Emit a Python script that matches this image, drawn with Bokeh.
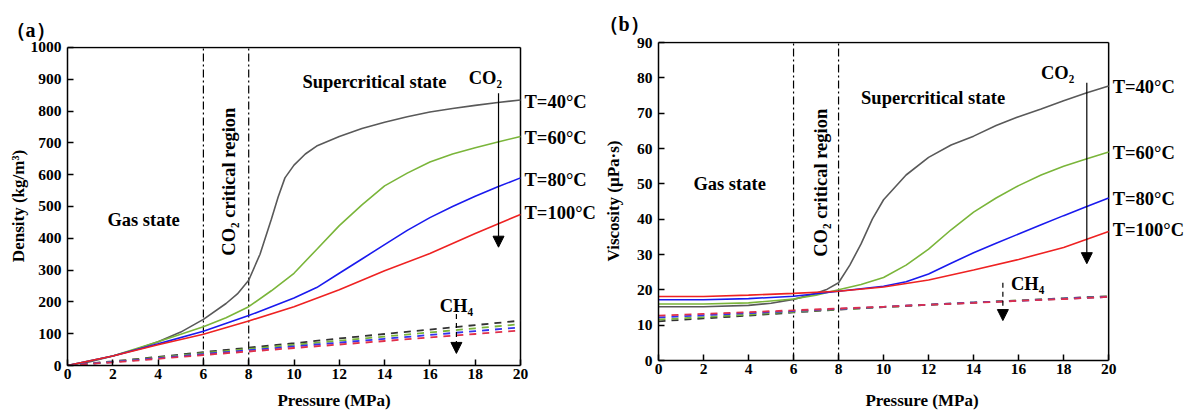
from bokeh.plotting import figure
from bokeh.models import Label, Arrow, NormalHead, Range1d, FixedTicker, Title
from bokeh.layouts import row
from bokeh.embed import file_html
from bokeh.resources import INLINE

# ---------------- data: (a) density ----------------
temps = ["T=40°C", "T=60°C", "T=80°C", "T=100°C"]
colors_co2 = ["#595959", "#7ab53a", "#1a1aee", "#ee2222"]
colors_ch4 = ["#333333", "#7ab53a", "#3333ee", "#e0304a"]

dens40_x = [0, 1, 2, 3, 4, 5, 6, 7, 7.5, 8, 8.5, 9, 9.3, 9.6, 10, 10.5, 11, 12, 13, 14, 15, 16, 17, 18, 19, 20]
dens40_y = [0, 12, 30, 50, 75, 105, 145, 195, 225, 268, 350, 460, 530, 590, 630, 665, 690, 720, 745, 765, 782, 797, 808, 818, 827, 835]
dens60_x = [0, 2, 4, 6, 7, 8, 9, 10, 11, 12, 13, 14, 15, 16, 17, 18, 19, 20]
dens60_y = [0, 30, 75, 122, 150, 185, 235, 290, 365, 440, 505, 565, 605, 640, 665, 685, 703, 720]
dens80_x = [0, 2, 4, 6, 8, 10, 11, 12, 13, 14, 15, 16, 17, 18, 19, 20]
dens80_y = [0, 30, 68, 108, 157, 212, 245, 290, 335, 380, 425, 465, 500, 532, 562, 590]
dens100_x = [0, 2, 4, 6, 8, 10, 12, 14, 16, 18, 20]
dens100_y = [0, 30, 65, 98, 140, 185, 238, 298, 352, 415, 475]

ch4_x = [0, 2, 4, 6, 8, 10, 12, 14, 16, 18, 20]
ch4_dens40 = [0, 13, 27, 42, 56, 70, 85, 99, 113, 127, 141]
ch4_dens60 = [0, 12, 25, 39, 52, 65, 78, 91, 104, 117, 130]
ch4_dens80 = [0, 11, 23, 36, 48, 60, 72, 84, 96, 108, 120]
ch4_dens100 = [0, 10, 21, 33, 44, 55, 66, 77, 88, 99, 110]

# ---------------- data: (b) viscosity ----------------
visc40_x = [0, 2, 4, 5, 6, 7, 7.5, 8, 8.5, 9, 9.5, 10, 11, 12, 13, 14, 15, 16, 17, 18, 19, 20]
visc40_y = [15.2, 15.2, 15.6, 16.2, 17.3, 19.0, 20.2, 22.0, 27, 33, 40, 45.5, 52.5, 57.5, 61, 63.5, 66.5, 69, 71.2, 73.5, 75.7, 77.7]
visc60_x = [0, 2, 4, 6, 7, 8, 9, 10, 11, 12, 13, 14, 15, 16, 17, 18, 19, 20]
visc60_y = [16, 16, 16.3, 17.4, 18.5, 20, 21.5, 23.5, 27, 31.5, 37, 42, 46, 49.5, 52.5, 55, 57, 59]
visc80_x = [0, 2, 4, 6, 8, 10, 11, 12, 13, 14, 15, 16, 17, 18, 19, 20]
visc80_y = [17.2, 17.2, 17.5, 18.2, 19.6, 21, 22.3, 24.5, 27.5, 30.5, 33.2, 35.8, 38.4, 41, 43.5, 46]
visc100_x = [0, 2, 4, 6, 8, 10, 12, 14, 16, 18, 20]
visc100_y = [18.1, 18.1, 18.5, 19, 19.6, 20.8, 22.8, 25.6, 28.6, 32, 36.5]

ch4_visc40 = [11.1, 11.9, 12.7, 13.6, 14.4, 15.1, 15.8, 16.4, 17.0, 17.6, 18.2]
ch4_visc60 = [11.6, 12.3, 13.0, 13.8, 14.5, 15.1, 15.8, 16.4, 17.0, 17.5, 18.1]
ch4_visc80 = [12.2, 12.8, 13.4, 14.0, 14.6, 15.2, 15.8, 16.4, 16.9, 17.5, 18.0]
ch4_visc100 = [12.7, 13.2, 13.7, 14.2, 14.7, 15.2, 15.8, 16.3, 16.9, 17.4, 18.0]

x_ticks = [0, 2, 4, 6, 8, 10, 12, 14, 16, 18, 20]
dens_ticks = [0, 100, 200, 300, 400, 500, 600, 700, 800, 900, 1000]
visc_ticks = [0, 10, 20, 30, 40, 50, 60, 70, 80, 90]

FONT = "Liberation Serif"
H = 412


def lab(p, x, y, text, size="18.5px", align="center", baseline="middle", angle=0, xo=0, yo=0):
    p.add_layout(Label(x=x, y=y, text=text, text_font=FONT, text_font_style="bold",
                       text_font_size=size, text_align=align, text_baseline=baseline,
                       angle=angle, x_offset=xo, y_offset=yo, text_color="black"))


def make_panel(width, left, top, frame_h, axis_px, ymax, yticks, ylabel, tag, tag_offset,
               tag_standoff, ylab_standoff, xlab_standoff):
    # frame runs to the right edge of the figure so that the right-hand labels stay visible;
    # the data range 0..20 occupies axis_px pixels of it
    frame_w = width - left
    bottom = H - top - frame_h
    x_end = 20 * frame_w / axis_px
    y_end = ymax * frame_h / (frame_h - 1)
    p = figure(width=width, height=H, x_range=Range1d(0, x_end), y_range=Range1d(0, y_end),
               output_backend="svg", toolbar_location=None,
               min_border_left=left, min_border_right=0, min_border_top=top, min_border_bottom=bottom)
    p.frame_align = False
    p.grid.visible = False
    p.outline_line_color = None
    p.background_fill_color = "white"
    p.border_fill_color = "white"
    for ax in (p.xaxis[0], p.yaxis[0]):
        ax.major_tick_in = 6
        ax.major_tick_out = 0
        ax.minor_tick_in = 0
        ax.minor_tick_out = 0
        ax.axis_line_width = 1.5
        ax.major_tick_line_width = 1.5
        ax.major_label_text_font = FONT
        ax.major_label_text_font_style = "bold"
        ax.major_label_text_font_size = "15.5px"
        ax.major_label_text_color = "black"
        ax.axis_label_text_font = FONT
        ax.axis_label_text_font_style = "bold"
        ax.axis_label_text_font_size = "17px"
        ax.axis_label_text_color = "black"
    p.xaxis.bounds = (0, 20)
    p.yaxis.bounds = (0, ymax)
    p.xaxis.ticker = FixedTicker(ticks=x_ticks)
    p.yaxis.ticker = FixedTicker(ticks=yticks)
    p.xaxis.axis_label = "Pressure (MPa)"
    p.yaxis.axis_label = ylabel
    p.xaxis.major_label_standoff = 3
    p.yaxis.major_label_standoff = 6
    p.xaxis.axis_label_standoff = xlab_standoff
    p.yaxis.axis_label_standoff = ylab_standoff
    # box: top and right edges
    p.segment(x0=[0], y0=[ymax], x1=[20], y1=[ymax], line_color="black", line_width=1.5)
    p.segment(x0=[20], y0=[0], x1=[20], y1=[ymax], line_color="black", line_width=1.5)
    for loc in (6, 8):
        p.segment(x0=[loc], y0=[0], x1=[loc], y1=[ymax], line_color="black",
                  line_width=1.2, line_dash="8 3 2 3")
    p.title = Title(text=tag, align="left", offset=tag_offset, standoff=tag_standoff,
                    text_font=FONT, text_font_style="bold", text_font_size="20px",
                    text_color="black")
    return p


# ---------------- panel (a) ----------------
pa = make_panel(600, 67, 46, 321, 453, 1000, dens_ticks, "Density (kg/m³)", "（a）", -62, 11, 0, 9)
for xs, ys, c in [(dens40_x, dens40_y, colors_co2[0]), (dens60_x, dens60_y, colors_co2[1]),
                  (dens80_x, dens80_y, colors_co2[2]), (dens100_x, dens100_y, colors_co2[3])]:
    pa.line(xs, ys, line_color=c, line_width=1.6)
for ys, c in [(ch4_dens40, colors_ch4[0]), (ch4_dens60, colors_ch4[1]),
              (ch4_dens80, colors_ch4[2]), (ch4_dens100, colors_ch4[3])]:
    pa.line(ch4_x, ys, line_color=c, line_width=1.8, line_dash="7 6")

lab(pa, 3.36, 459, "Gas state")
lab(pa, 7.15, 578, "CO₂ critical region", angle=1.5708)
lab(pa, 13.55, 890, "Supercritical state")
lab(pa, 18.45, 903, "CO₂")
lab(pa, 17.17, 188, "CH₄")
for t, yv in zip(temps, [828, 716, 584, 481]):
    lab(pa, 20, yv, t, align="left", xo=4)
pa.add_layout(Arrow(end=NormalHead(size=11, fill_color="black", line_color="black"),
                    x_start=19.03, y_start=856, x_end=19.03, y_end=372,
                    line_color="black", line_width=1.2))
pa.add_layout(Arrow(end=NormalHead(size=11, fill_color="black", line_color="black"),
                    x_start=17.17, y_start=162, x_end=17.17, y_end=38,
                    line_color="black", line_width=1.2, line_dash="5 4"))

# ---------------- panel (b) ----------------
pb = make_panel(585, 57, 41, 319, 451, 90, visc_ticks, "Viscosity (μPa·s)", "（b）", -60, 14, 11, 14)
for xs, ys, c in [(visc40_x, visc40_y, colors_co2[0]), (visc60_x, visc60_y, colors_co2[1]),
                  (visc80_x, visc80_y, colors_co2[2]), (visc100_x, visc100_y, colors_co2[3])]:
    pb.line(xs, ys, line_color=c, line_width=1.6)
for ys, c in [(ch4_visc40, colors_ch4[0]), (ch4_visc60, colors_ch4[1]),
              (ch4_visc80, colors_ch4[2]), (ch4_visc100, colors_ch4[3])]:
    pb.line(ch4_x, ys, line_color=c, line_width=1.8, line_dash="7 6")

lab(pb, 3.16, 50.0, "Gas state")
lab(pb, 7.23, 50.3, "CO₂ critical region", angle=1.5708)
lab(pb, 12.2, 74.4, "Supercritical state")
lab(pb, 17.73, 81.4, "CO₂")
lab(pb, 16.4, 21.7, "CH₄")
for t, yv in zip(temps, [77.4, 58.8, 45.8, 36.8]):
    lab(pb, 20, yv, t, align="left", xo=4)
pb.add_layout(Arrow(end=NormalHead(size=11, fill_color="black", line_color="black"),
                    x_start=19.03, y_start=78.6, x_end=19.03, y_end=27.4,
                    line_color="black", line_width=1.2))
pb.add_layout(Arrow(end=NormalHead(size=11, fill_color="black", line_color="black"),
                    x_start=15.3, y_start=22, x_end=15.3, y_end=11.3,
                    line_color="black", line_width=1.2, line_dash="5 4"))

layout = row(pa, pb)
open("out.html", "w").write(file_html(layout, INLINE))
